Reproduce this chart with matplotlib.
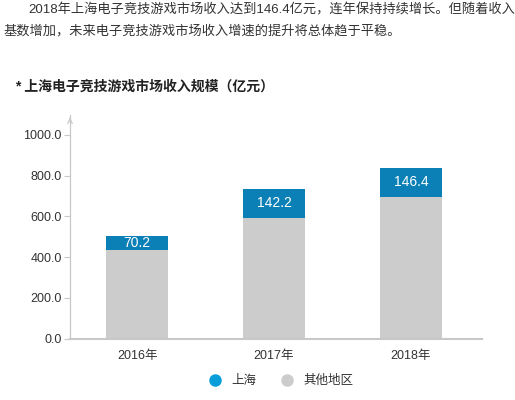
import matplotlib
matplotlib.use("Agg")
import matplotlib.pyplot as plt
from matplotlib.lines import Line2D

plt.rcParams['font.family'] = ['Liberation Sans', 'Noto Sans CJK SC', 'DejaVu Sans']

years = ['2016年', '2017年', '2018年']
shanghai = [70.2, 142.2, 146.4]
others = [435.0, 593.0, 693.0]
yticks = [0, 200, 400, 600, 800, 1000]

blue = '#0b80b6'
gray = '#cccccc'
axis_c = '#c8c8c8'

fig = plt.figure(figsize=(5.15, 4.0), dpi=100)
ax = fig.add_axes([0.136, 0.153, 0.80, 0.56])

x = range(len(years))
ax.bar(x, others, width=0.45, color=gray)
ax.bar(x, shanghai, width=0.45, bottom=others, color=blue)
for i in x:
    ax.text(i, others[i] + shanghai[i] / 2, f'{shanghai[i]:.1f}', ha='center', va='center',
            color='white', fontsize=10)

ax.set_xlim(-0.49, 2.52)
ax.set_ylim(0, 1098)
ax.set_xticks(list(x))
ax.set_xticklabels(years, fontsize=9, color='#333333')
ax.set_yticks(yticks)
ax.set_yticklabels([f'{v:.1f}' for v in yticks], fontsize=9, color='#333333')
ax.tick_params(axis='x', length=0, pad=8)
ax.tick_params(axis='y', length=4, color=axis_c, width=0.8, pad=2)
for s in ['top', 'right']:
    ax.spines[s].set_visible(False)
ax.spines['left'].set_color(axis_c)
ax.spines['bottom'].set_color(axis_c)
ax.spines['bottom'].set_linewidth(1.5)
ax.spines['left'].set_linewidth(0.9)
# arrow on the y axis
ax.plot([0], [1], marker=(2, 0, 0), visible=False)
ax.annotate('', xy=(0, 1.0), xytext=(0, 0.97), xycoords='axes fraction',
            arrowprops=dict(arrowstyle='->', color=axis_c, lw=0.9, mutation_scale=8))

fig.text(28 / 515, 1 - 10 / 400, '2018年上海电子竞技游戏市场收入达到146.4亿元，连年保持持续增长。但随着收入',
         fontsize=9.5, color='#333333', va='center')
fig.text(3 / 515, 1 - 31 / 400, '基数增加，未来电子竞技游戏市场收入增速的提升将总体趋于平稳。',
         fontsize=9.5, color='#333333', va='center')
fig.text(15 / 515, 1 - 87 / 400, '* 上海电子竞技游戏市场收入规模（亿元）',
         fontsize=10, fontweight='bold', color='#222222', va='center')

handles = [Line2D([], [], marker='o', ls='', color='#0a9ed9', markersize=8),
           Line2D([], [], marker='o', ls='', color=gray, markersize=8)]
fig.legend(handles, ['上海', '其他地区'], loc='center', bbox_to_anchor=(278 / 515, 1 - 381 / 400),
           ncol=2, frameon=False, fontsize=9, handletextpad=0.3, columnspacing=1.5,
           labelcolor='#333333')

fig.savefig('out.png', dpi=100)
